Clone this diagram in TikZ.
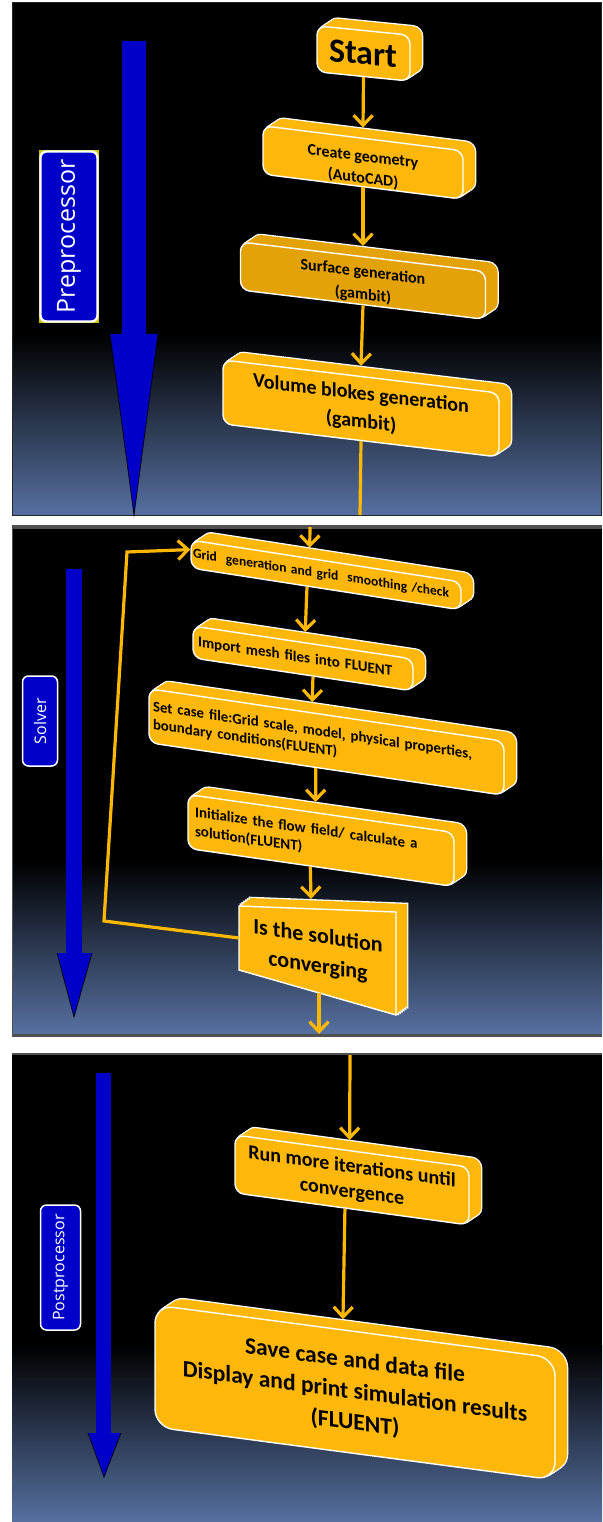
\documentclass[tikz,border=0pt]{standalone}
\usepackage{fontspec}
\setmainfont{Carlito}
\newfontfamily\tagfont{Open Sans}
\usetikzlibrary{arrows.meta,calc,shadows}

\definecolor{boxfill}{RGB}{255,184,10}
\definecolor{boxdark}{RGB}{227,162,8}
\definecolor{flowline}{RGB}{255,184,0}
\definecolor{barblue}{RGB}{0,0,200}
\definecolor{panelblue}{RGB}{86,112,160}
\definecolor{panelgray}{RGB}{80,80,80}
\definecolor{tagyellow}{RGB}{205,195,0}

\tikzset{
  rim/.style 2 args={general shadow={draw=white, fill=white, line width=2.6pt,
      shadow xshift=#1pt, shadow yshift=#2pt}},
  core/.style n args={3}{general shadow={fill=#1, shadow xshift=#2pt, shadow yshift=#3pt}},
  slab/.style={rim={12}{8}, rim={10}{6.67}, rim={8}{5.33}, rim={6}{4}, rim={4}{2.67}, rim={2}{1.33},
    core={#1}{12}{8}, core={#1}{10}{6.67}, core={#1}{8}{5.33}, core={#1}{6}{4},
    core={#1}{4}{2.67}, core={#1}{2}{1.33},
    draw=white, line width=1.4pt, fill=#1, rounded corners=9pt, text=black, inner sep=2pt},
  flow/.style={draw=flowline, line width=3.2pt, -{Straight Barb[length=10pt,width=19pt]}},
  tag/.style={draw=white, fill=barblue, text=white, rounded corners=6pt, rotate=90, inner sep=0pt},
}

\begin{document}
\begin{tikzpicture}[x=1pt,y=-1pt]
  \useasboundingbox (0,0) rectangle (602,1522);
  \fill[white] (0,0) rectangle (602,1522);

  % panels
  \fill[black] (12,3) rectangle (601,335);
  \shade[top color=black, bottom color=panelblue] (12,335) rectangle (601,515);
  \draw[black!85, line width=1pt] (12,3) rectangle (601,515);
  \fill[panelgray] (12,525) rectangle (602,1037);
  \fill[black] (13,529) rectangle (602,860);
  \shade[top color=black, bottom color=panelblue] (13,860) rectangle (602,1033);
  \fill[panelgray] (12,1053) rectangle (602,1522);
  \fill[black] (12,1055) rectangle (602,1345);
  \shade[top color=black, bottom color=panelblue] (12,1345) rectangle (602,1522);

  % big blue arrows
  \fill[barblue] (122,41) rectangle (146,335);
  \filldraw[fill=barblue, draw=black, line width=0.7pt] (110,334) -- (134,515) -- (158,334);
  \fill[barblue] (66,569) rectangle (82,954);
  \filldraw[fill=barblue, draw=black, line width=0.7pt] (57,953) -- (74,1017) -- (92,953);
  \fill[barblue] (96,1073) rectangle (111,1434);
  \filldraw[fill=barblue, draw=black, line width=0.7pt] (88,1433) -- (104,1477) -- (121,1433);

  % stage tags
  \fill[tagyellow] (39,150) rectangle (99,323);
  \node[tag, line width=2.4pt, minimum width=170, minimum height=57,
    font=\tagfont\fontsize{25}{28}\selectfont] (pre) at (69,236.5) {Preprocessor};
  \node[tag, line width=1.5pt, minimum width=90, minimum height=35,
    font=\tagfont\fontsize{16}{18}\selectfont] (sol) at (40,721) {Solver};
  \node[tag, line width=1.5pt, minimum width=125, minimum height=40,
    font=\tagfont\fontsize{16}{18}\selectfont] (post) at (60.5,1267.5) {Postprocessor};

  % preprocessor
  \node[slab=boxfill, yslant=-0.1, minimum width=93, minimum height=46,
    font=\bfseries\fontsize{34}{36}\selectfont] (start) at (363.5,53.5) {Start};
  \node[slab=boxfill, yslant=-0.125, minimum width=200, minimum height=44, inner sep=1pt, align=center,
    font=\bfseries\fontsize{16}{22}\selectfont] (geom) at (363,162.5)
    {\rule{0pt}{22pt}Create geometry\\(AutoCAD)};
  \node[slab=boxdark, yslant=-0.12, minimum width=245, minimum height=48, inner sep=1pt, align=center,
    font=\bfseries\fontsize{16}{23}\selectfont] (surf) at (363,280.7)
    {\rule{0pt}{18pt}Surface generation\\(gambit)};
  \node[slab=boxfill, yslant=-0.12, minimum width=276, minimum height=64, align=center,
    font=\bfseries\fontsize{20}{28}\selectfont] (vol) at (361,408.5) {Volume blokes generation\\(gambit)};

  % solver
  \node[slab=boxfill, yslant=-0.155, minimum width=270, minimum height=28, text width=266, align=left,
    font=\bfseries\fontsize{13.5}{15}\selectfont] (grid) at (326,575)
    {Grid\ \ generation and grid\ \ smoothing /check};
  \node[slab=boxfill, yslant=-0.15, minimum width=220, minimum height=32, text width=210, align=left,
    font=\bfseries\fontsize{15}{17}\selectfont] (imp) at (303,658.5) {Import mesh files into FLUENT};
  \node[slab=boxfill, yslant=-0.148, minimum width=355, minimum height=54, text width=347, align=left,
    font=\bfseries\fontsize{14.8}{18}\selectfont] (case) at (326.5,742)
    {Set case file:Grid scale, model, physical properties,\\boundary conditions(FLUENT)};
  \node[slab=boxfill, yslant=-0.143, minimum width=266, minimum height=54, text width=252, align=left,
    font=\bfseries\fontsize{15}{19}\selectfont] (init) at (321,840.5)
    {Initialize the flow field/ calculate a\\solution(FLUENT)};

  % decision block
  \foreach \k in {12,10,...,2}
    \filldraw[draw=white, fill=white, line width=2.6pt, shift={(\k*11/12,-\k*8/12)}]
      (239,906) -- (396,912) -- (396,1015) -- (239,970) -- cycle;
  \foreach \k in {12,10,...,2}
    \fill[boxfill, shift={(\k*11/12,-\k*8/12)}]
      (239,906) -- (396,912) -- (396,1015) -- (239,970) -- cycle;
  \filldraw[fill=boxfill, draw=white, line width=1.4pt]
    (239,906) -- (396,912) -- (396,1015) -- (239,970) -- cycle;
  \node[yslant=-0.15, align=center, text=black,
    font=\bfseries\fontsize{22}{30}\selectfont] (dec) at (318,952) {Is the solution\\converging};
  \coordinate (decin) at (311,899);
  \coordinate (decout) at (319,993);
  \coordinate (decleft) at (239,938);

  % postprocessor
  \node[slab=boxfill, yslant=-0.137, minimum width=234, minimum height=58, align=center,
    font=\bfseries\fontsize{20}{25}\selectfont] (run) at (352,1180)
    {Run more iterations until\\convergence};
  \node[slab=boxfill, yslant=-0.1325, minimum width=400, minimum height=122, rounded corners=18pt,
    align=center, font=\bfseries\fontsize{23.5}{31}\selectfont] (save) at (355,1392.5)
    {Save case and data file\\Display and print simulation results\\(FLUENT)};

  % connectors
  \draw[flow] (start.south) -- ($(geom.north)+(0,-10)$);
  \draw[flow] (geom.south) -- ($(surf.north)+(0,-10)$);
  \draw[flow] (surf.south) -- ($(vol.north)+(0,-10)$);
  \coordinate (p1end) at (360,515);
  \draw[flow, -] (vol.south) -- (p1end);

  \coordinate (p2top) at (310,527);
  \draw[flow] (p2top) -- ($(grid.north west)!0.44!(grid.north east)+(0,-10)$);
  \draw[flow] ($(grid.south west)!0.43!(grid.south east)$) -- ($(imp.north west)!0.51!(imp.north east)+(0,-10)$);
  \draw[flow] ($(imp.south west)!0.545!(imp.south east)$) -- ($(case.north west)!0.46!(case.north east)+(0,-10)$);
  \draw[flow] ($(case.south west)!0.47!(case.south east)$) -- ($(init.north west)!0.48!(init.north east)+(0,-10)$);
  \draw[flow] ($(init.south west)!0.46!(init.south east)$) -- (decin);
  \coordinate (loopa) at (104,921);
  \coordinate (loopb) at (127,552);
  \draw[flow] (decleft) -- (loopa) -- (loopb) -- ($(grid.north west)!0.35!(grid.south west)$);
  \coordinate (p2end) at (319,1034);
  \draw[flow] (decout) -- (p2end);

  \coordinate (p3top) at (350,1055);
  \draw[flow] (p3top) -- ($(run.north west)!0.49!(run.north east)+(0,-10)$);
  \draw[flow] ($(run.south west)!0.47!(run.south east)$) -- ($(save.north west)!0.47!(save.north east)+(0,-10)$);
\end{tikzpicture}
\end{document}
